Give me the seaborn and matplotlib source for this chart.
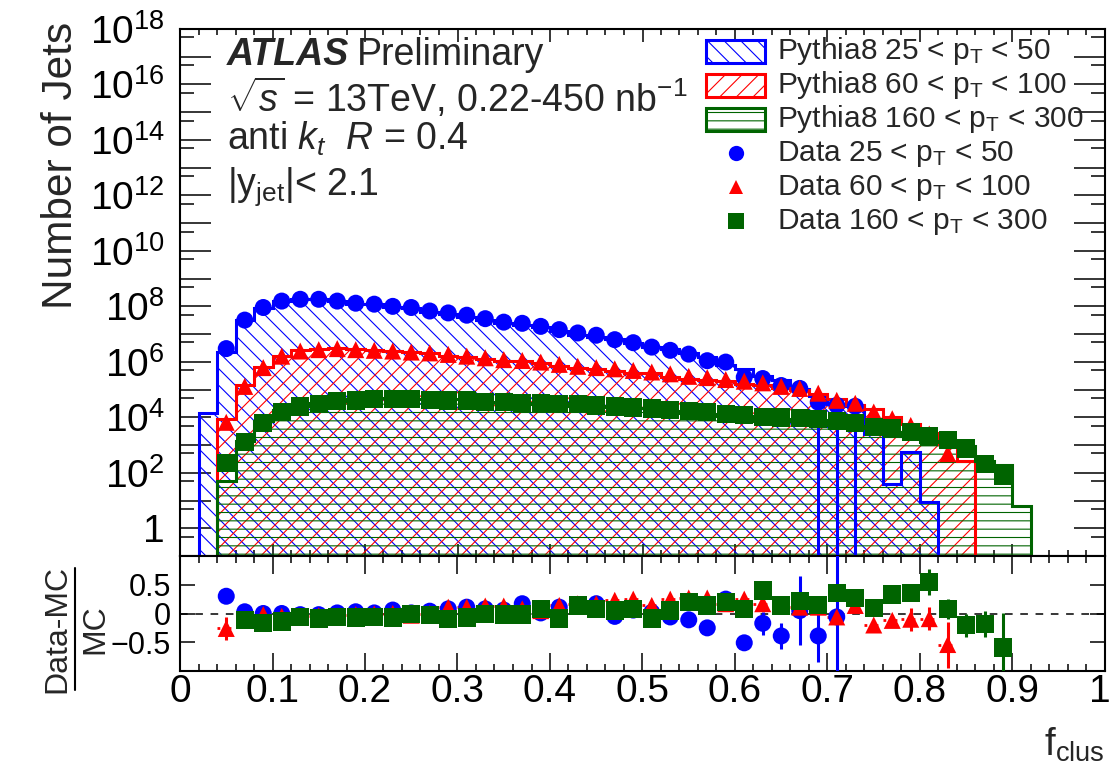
import numpy as np
import pandas as pd
import matplotlib
matplotlib.use("Agg")
import matplotlib.pyplot as plt
import matplotlib.transforms as mtransforms
import seaborn as sns
from matplotlib.ticker import FixedLocator, FuncFormatter, MultipleLocator, NullLocator
from matplotlib.patches import Rectangle
from matplotlib.lines import Line2D

# ---------------------------------------------------------------- binning
edges = np.round(np.arange(0.0, 1.0001, 0.02), 2)          # 50 bins in f_clus

# ---------------------------------------------------------------- Pythia8 MC (per bin)
mc_low = [0, 1.4e4, 2.3e6, 3.1e7, 9.1e7, 1.55e8, 1.84e8, 1.84e8, 1.53e8, 1.26e8,
          1.19e8, 9.4e7, 9.0e7, 6.5e7, 5.4e7, 4.3e7, 3.3e7, 2.55e7, 2.1e7, 1.88e7,
          1.31e7, 9.6e6, 7.8e6, 6.6e6, 4.6e6, 3.3e6, 2.8e6, 2.1e6, 1.47e6, 7.8e5,
          5.7e5, 3.0e5, 2.3e5, 1.05e5, 5.7e4, 2.9e4, 2.5e4, 2.6e3, 40, 550,
          8.7, 0, 0, 0, 0, 0, 0, 0, 0, 0]
mc_mid = [0, 0, 8.9e3, 1.44e5, 6.3e5, 1.68e6, 2.6e6, 2.86e6, 3.2e6, 2.8e6,
          2.63e6, 2.45e6, 2.32e6, 2.1e6, 1.67e6, 1.44e6, 1.24e6, 1.06e6, 1.04e6, 9.3e5,
          7.1e5, 5.9e5, 5.3e5, 4.55e5, 3.9e5, 3.8e5, 2.96e5, 2.36e5, 2.13e5, 1.97e5,
          1.6e5, 1.5e5, 1.14e5, 9.9e4, 6.7e4, 4.4e4, 2.8e4, 1.94e4, 1.01e4, 5.7e3,
          2.75e3, 1.07e3, 275, 0, 0, 0, 0, 0, 0, 0]
mc_high = [0, 0, 51, 1.42e3, 7.5e3, 1.8e4, 2.6e4, 3.24e4, 4.0e4, 4.4e4,
           4.8e4, 4.84e4, 4.55e4, 4.4e4, 4.55e4, 4.4e4, 3.6e4, 3.6e4, 3.3e4, 3.0e4,
           3.24e4, 2.6e4, 2.5e4, 2.33e4, 2.08e4, 2.25e4, 1.76e4, 1.38e4, 1.36e4, 1.13e4,
           1.14e4, 7.5e3, 8.6e3, 7.6e3, 7.7e3, 5.3e3, 5.0e3, 4.1e3, 2.9e3, 2.2e3,
           1.32e3, 1.39e3, 925, 256, 195, 6.6, 0, 0, 0, 0]

# ---------------------------------------------------------------- data
f_low = np.round(np.arange(0.05, 0.7301, 0.02), 2)
f_mid = np.round(np.arange(0.05, 0.8301, 0.02), 2)
f_high = np.round(np.arange(0.05, 0.8901, 0.02), 2)

data_low = [3.0e6, 3.2e7, 9.1e7, 1.55e8, 1.8e8, 1.8e8, 1.55e8, 1.3e8, 1.2e8, 1.0e8,
            9.1e7, 6.8e7, 5.8e7, 4.8e7, 3.6e7, 2.7e7, 2.45e7, 1.9e7, 1.45e7, 1.1e7,
            9.1e6, 6.3e6, 4.9e6, 3.4e6, 2.6e6, 1.9e6, 1.1e6, 9.8e5, 2.8e5, 2.5e5,
            1.4e5, 1.1e5, 3.5e4, 2.7e4, 2.5e4]
data_mid = [6.6e3, 1.3e5, 6.2e5, 1.6e6, 2.45e6, 2.75e6, 3.0e6, 2.75e6, 2.6e6, 2.45e6,
            2.25e6, 2.1e6, 1.85e6, 1.6e6, 1.4e6, 1.2e6, 1.12e6, 9.8e5, 8.1e5, 6.9e5,
            6.2e5, 5.6e5, 4.9e5, 4.3e5, 3.7e5, 3.0e5, 2.7e5, 2.3e5, 2.0e5, 1.75e5,
            1.3e5, 1.1e5, 7.4e4, 4.1e4, 3.2e4, 1.55e4, 8.9e3, 5.1e3, 2.5e3, 490]
data_high = [220, 1.26e3, 6.2e3, 1.55e4, 2.45e4, 2.95e4, 3.8e4, 4.1e4, 4.5e4, 4.5e4,
             4.5e4, 4.25e4, 4.1e4, 4.1e4, 3.55e4, 3.55e4, 3.25e4, 3.25e4, 2.95e4, 2.95e4,
             2.7e4, 2.45e4, 2.25e4, 2.05e4, 1.85e4, 1.65e4, 1.55e4, 1.35e4, 1.23e4, 1.05e4,
             9.8e3, 9.3e3, 8.9e3, 7.2e3, 6.3e3, 4.5e3, 3.9e3, 3.0e3, 2.05e3, 1.5e3,
             740, 210, 80]

# (Data-MC)/MC and its uncertainty
ratio_low = [0.30, 0.03, 0.0, 0.0, -0.02, -0.02, 0.01, 0.03, 0.01, 0.06,
             0.01, 0.04, 0.08, 0.11, 0.08, 0.06, 0.17, 0.01, 0.11, 0.14,
             0.17, -0.05, 0.06, 0.02, -0.06, -0.11, -0.25, 0.25, -0.51, -0.17,
             -0.39, 0.05, -0.39, -0.06, np.nan]
err_low = [0.04, 0.02, 0.02, 0.02, 0.02, 0.02, 0.02, 0.02, 0.02, 0.02,
           0.02, 0.02, 0.02, 0.02, 0.02, 0.02, 0.03, 0.03, 0.03, 0.03,
           0.03, 0.03, 0.04, 0.04, 0.05, 0.06, 0.07, 0.15, 0.12, 0.20,
           0.22, 0.60, 0.45, 1.20, 1.20]
ratio_mid = [-0.26, -0.10, -0.02, -0.05, -0.06, -0.04, -0.06, -0.02, -0.01, 0.0,
             -0.03, 0.0, 0.11, 0.11, 0.13, 0.13, 0.08, 0.05, 0.14, 0.17,
             0.17, 0.23, 0.25, 0.14, 0.25, 0.27, 0.27, 0.17, 0.25, 0.17,
             0.14, 0.11, 0.11, -0.06, 0.14, -0.20, -0.12, -0.10, -0.09, -0.54]
err_mid = [0.20, 0.05, 0.02, 0.02, 0.02, 0.02, 0.02, 0.02, 0.02, 0.02,
           0.02, 0.02, 0.02, 0.02, 0.02, 0.02, 0.02, 0.02, 0.02, 0.02,
           0.02, 0.02, 0.02, 0.02, 0.02, 0.02, 0.03, 0.03, 0.03, 0.03,
           0.03, 0.03, 0.04, 0.05, 0.05, 0.07, 0.10, 0.20, 0.20, 0.40]
ratio_high = [3.3, -0.11, -0.17, -0.14, -0.06, -0.09, -0.06, -0.07, -0.06, -0.07,
              -0.01, -0.03, -0.10, -0.07, -0.01, -0.02, -0.02, 0.08, -0.09, 0.14,
              0.08, 0.05, 0.08, -0.09, 0.05, 0.20, 0.14, 0.20, 0.08, 0.40,
              0.14, 0.22, 0.15, 0.36, 0.27, 0.10, 0.33, 0.36, 0.55, 0.08,
              -0.20, -0.18, -0.59]
err_high = [0.10, 0.05, 0.03, 0.02, 0.02, 0.02, 0.02, 0.02, 0.02, 0.02,
            0.02, 0.02, 0.02, 0.02, 0.02, 0.02, 0.02, 0.02, 0.02, 0.02,
            0.02, 0.02, 0.02, 0.02, 0.03, 0.03, 0.03, 0.03, 0.03, 0.03,
            0.04, 0.04, 0.05, 0.07, 0.05, 0.08, 0.10, 0.12, 0.22, 0.18,
            0.20, 0.22, 0.60]

# statistical error of the sparse low-pT tail in the upper panel
tail_f = [0.69, 0.71, 0.73]
tail_err = [3.7e4, 2.9e4, 2.6e4]

labels_mc = ["Pythia8 25 < p$_{\\mathrm{T}}$ < 50",
             "Pythia8 60 < p$_{\\mathrm{T}}$ < 100",
             "Pythia8 160 < p$_{\\mathrm{T}}$ < 300"]
labels_data = ["Data 25 < p$_{\\mathrm{T}}$ < 50",
               "Data 60 < p$_{\\mathrm{T}}$ < 100",
               "Data 160 < p$_{\\mathrm{T}}$ < 300"]

# ---------------------------------------------------------------- style
sns.set_theme(style="ticks")
plt.rcParams.update({
    "font.family": ["Liberation Sans", "DejaVu Sans"],
    "mathtext.fontset": "custom",
    "mathtext.rm": "Liberation Sans",
    "mathtext.it": "Liberation Sans:italic",
    "mathtext.bf": "Liberation Sans:bold",
    "mathtext.sf": "Liberation Sans",
    "axes.unicode_minus": True,
    "hatch.linewidth": 0.8,
    "axes.linewidth": 1.5,
    "axes.edgecolor": "black",
    "xtick.color": "black",
    "ytick.color": "black",
})

BLUE, RED, GREEN = "#0000ff", "#ff0000", "#006400"
W, H = 1113, 766


def fx(px):
    return px / W


def fy(py):
    return 1 - py / H


fig = plt.figure(figsize=(W / 100, H / 100), dpi=100)
left, right = fx(180), fx(1105)
ax = fig.add_axes([left, fy(556), right - left, (556 - 29) / H])
axr = fig.add_axes([left, fy(671), right - left, (671 - 556) / H])

# ---------------------------------------------------------------- MC histograms
hist_specs = [(mc_low, BLUE, "\\\\"), (mc_mid, RED, "//"), (mc_high, GREEN, "--")]
for vals, col, hatch in hist_specs:
    ax.stairs(vals, edges, baseline=1e-3, fill=True, facecolor="none",
              edgecolor=col, hatch=hatch, linewidth=0, zorder=1)
for vals, col, hatch in hist_specs:
    ax.stairs(vals, edges, baseline=1e-3, color=col, linewidth=2.2, zorder=2)

# ---------------------------------------------------------------- data points
series = [("low", f_low, data_low, ratio_low, err_low, BLUE),
          ("mid", f_mid, data_mid, ratio_mid, err_mid, RED),
          ("high", f_high, data_high, ratio_high, err_high, GREEN)]
frames = []
for name, f, d, r, e, _ in series:
    frames.append(pd.DataFrame({"f": f, "count": d, "ratio": r, "err": e, "sample": name}))
df = pd.concat(frames, ignore_index=True)

palette = {"low": BLUE, "mid": RED, "high": GREEN}
markers = {"low": "o", "mid": "^", "high": "s"}
sizes = {"low": 150, "mid": 150, "high": 175}

ax.errorbar(tail_f, data_low[-3:], yerr=tail_err, fmt="none", ecolor=BLUE,
            elinewidth=2.2, capsize=0, zorder=4)
sns.scatterplot(data=df, x="f", y="count", hue="sample", style="sample", size="sample",
                palette=palette, markers=markers, sizes=sizes, linewidth=0,
                legend=False, ax=ax, zorder=5)

# ratio panel
axr.axhline(0, color="black", lw=1.1, ls=(0, (5, 5)), zorder=1)
for name, f, d, r, e, col in series:
    axr.errorbar(f, r, yerr=e, fmt="none", ecolor=col, elinewidth=2.2, capsize=0, zorder=3)
axr.hlines(ratio_mid, f_mid - 0.01, f_mid + 0.01, colors=RED, linestyles=(0, (1, 3)),
           lw=2.0, zorder=3)
sns.scatterplot(data=df, x="f", y="ratio", hue="sample", style="sample", size="sample",
                palette=palette, markers=markers, sizes=sizes, linewidth=0,
                legend=False, ax=axr, zorder=5)

# ---------------------------------------------------------------- axes
ax.set_yscale("log")
ax.set_xlim(0, 1)
ax.set_ylim(0.1, 1e18)
ax.yaxis.set_major_locator(FixedLocator([10.0 ** k for k in range(-1, 19)]))
ax.yaxis.set_minor_locator(FixedLocator([5 * 10.0 ** k for k in range(-2, 18)]))


def log_label(v, pos):
    k = int(round(np.log10(v)))
    if k < 0 or k % 2:
        return ""
    return "1" if k == 0 else "$\\mathregular{10^{%d}}$" % k


ax.yaxis.set_major_formatter(FuncFormatter(log_label))
ax.xaxis.set_major_locator(MultipleLocator(0.1))
ax.xaxis.set_minor_locator(MultipleLocator(0.02))
ax.tick_params(which="both", direction="in", top=True, right=True, labelbottom=False,
               width=1.1)
ax.tick_params(axis="y", which="major", length=22, pad=11, labelsize=28)
ax.tick_params(axis="y", which="minor", length=10)
ax.tick_params(axis="x", which="major", length=9)
ax.tick_params(axis="x", which="minor", length=4)
ax.set_xlabel("")
ax.set_ylabel("")

axr.set_xlim(0, 1)
axr.set_ylim(-1, 1)
axr.yaxis.set_major_locator(FixedLocator([-0.5, 0, 0.5]))
axr.yaxis.set_minor_locator(NullLocator())
axr.yaxis.set_major_formatter(FuncFormatter(lambda v, p: ("%g" % v).replace("-", "\u2212")))
axr.xaxis.set_major_locator(FixedLocator(np.round(np.arange(0, 1.01, 0.1), 1)))
axr.xaxis.set_minor_locator(MultipleLocator(0.02))
axr.xaxis.set_major_formatter(FuncFormatter(lambda v, p: "%g" % round(v, 2)))
axr.tick_params(which="both", direction="in", top=True, right=True, width=1.1)
axr.tick_params(axis="y", which="major", length=11, pad=6.5, labelsize=22)
axr.tick_params(axis="x", which="major", length=13, pad=2, labelsize=28)
axr.tick_params(axis="x", which="minor", length=5)
axr.set_xlabel("")
axr.set_ylabel("")

for a in (ax, axr):
    for s in a.spines.values():
        s.set_visible(True)
        s.set_linewidth(1.5)

# keep the last x label ("1") inside the canvas
fig.canvas.draw()
last = axr.xaxis.get_major_ticks()[-1].label1
last.set_transform(last.get_transform()
                   + mtransforms.ScaledTranslation(-0.05, 0, fig.dpi_scale_trans))

# ---------------------------------------------------------------- axis titles
fig.text(fx(61), fy(22), "Number of Jets", rotation=90, ha="center", va="top", fontsize=30.5)
fig.text(fx(1105), fy(764), "f$_{\\mathrm{clus}}$", ha="right", va="bottom", fontsize=28)
fig.text(fx(57), fy(629), "Data-MC", rotation=90, ha="center", va="center", fontsize=23)
fig.add_artist(Line2D([fx(75), fx(75)], [fy(568), fy(690)], color="black", lw=1.5,
                      transform=fig.transFigure))
fig.text(fx(95), fy(629), "MC", rotation=90, ha="center", va="center", fontsize=23)

# ---------------------------------------------------------------- labels
fig.text(fx(227), fy(65), "ATLAS", fontsize=27, fontweight="bold", fontstyle="italic",
         va="baseline")
fig.text(fx(357), fy(65), "Preliminary", fontsize=27, va="baseline")
fig.text(fx(227), fy(112), "$\\sqrt{s}$ = 13TeV, 0.22-450 nb$^{-1}$", fontsize=27,
         va="baseline")
fig.text(fx(227), fy(150), "anti $k_{t}$  $R$ = 0.4", fontsize=27, va="baseline")
fig.text(fx(227), fy(195), "|y$_{\\mathrm{jet}}$|< 2.1", fontsize=27, va="baseline")

# ---------------------------------------------------------------- legend
baselines = [59.3, 93.3, 127.3, 161.3, 195.3, 229.3]
for i, ((vals, col, hatch), lab) in enumerate(zip(hist_specs, labels_mc)):
    b = baselines[i]
    fig.add_artist(Rectangle((fx(706), fy(b - 8 + 11.5)), (765 - 706) / W, 23 / H,
                             transform=fig.transFigure, facecolor="none", edgecolor=col,
                             hatch=hatch, linewidth=2.2))
    fig.text(fx(777), fy(b), lab, fontsize=21.5, va="baseline")
for j, (lab, key, ms) in enumerate(zip(labels_data, ["low", "mid", "high"], [11, 10, 11])):
    b = baselines[3 + j]
    fig.add_artist(Line2D([fx(736)], [fy(b - 8)], marker=markers[key], ms=ms,
                          color=palette[key], ls="none", markeredgewidth=0,
                          transform=fig.transFigure))
    fig.text(fx(777), fy(b), lab, fontsize=21.5, va="baseline")

fig.savefig("out.png", dpi=100)
